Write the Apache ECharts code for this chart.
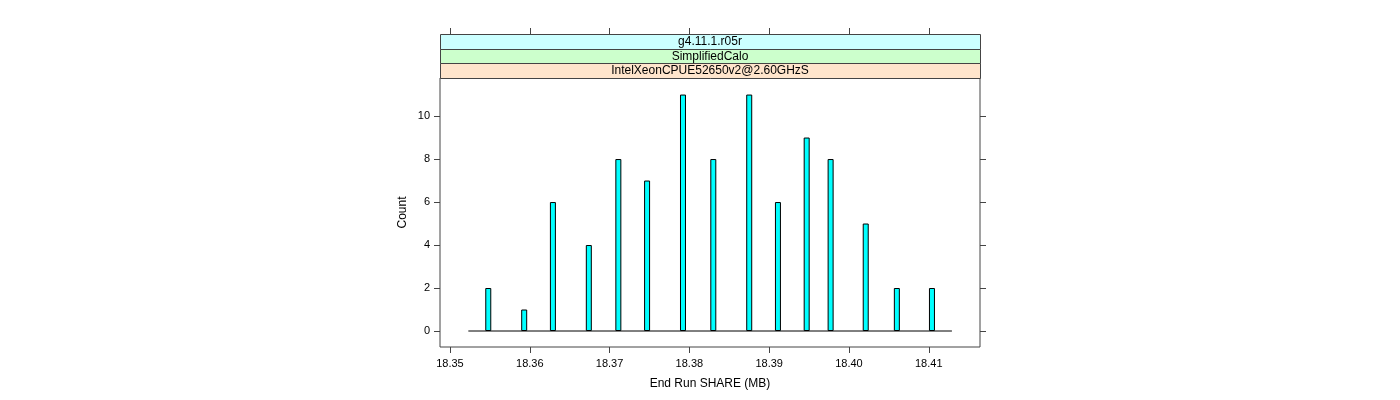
<!DOCTYPE html>
<html>
<head>
<meta charset="utf-8">
<script src="https://cdn.jsdelivr.net/npm/echarts@6/dist/echarts.min.js"></script>
<style>
  html, body { margin: 0; padding: 0; background: #fff; }
  #chart { width: 1400px; height: 400px; }
</style>
</head>
<body>
<div id="chart"></div>
<script>
// bar positions (End Run SHARE, MB) and counts
const shareValues = [18.3548, 18.3593, 18.3629, 18.3674, 18.3711, 18.3747, 18.3792, 18.3830,
                     18.3875, 18.3911, 18.3947, 18.3977, 18.4021, 18.4060, 18.4104];
const counts = [2, 1, 6, 4, 8, 7, 11, 8, 11, 6, 9, 8, 5, 2, 2];

// horizontal reference line at zero across the data range
const zeroLine = [[18.3523, 0], [18.4129, 0]];

const xTicks = [18.35, 18.36, 18.37, 18.38, 18.39, 18.40, 18.41];
const yTicks = [0, 2, 4, 6, 8, 10];

const stripLabels = ['g4.11.1.r05r', 'SimplifiedCalo', 'IntelXeonCPUE52650v2@2.60GHzS'];
const stripColors = ['#CCFFFF', '#CCFFCC', '#FFE5CC'];

const FONT = '"Liberation Sans", Arial, sans-serif';
const AXIS = '#444';

const chart = echarts.init(document.getElementById('chart'));

// strip boxes above the panel
const stripTops = [34, 49, 63];
const stripHeights = [15, 14, 15];
const strips = [];
stripLabels.forEach((label, i) => {
  strips.push({
    type: 'rect',
    left: 440, top: stripTops[i],
    shape: { width: 540, height: stripHeights[i] },
    style: { fill: stripColors[i], stroke: AXIS, lineWidth: 1 },
    z: 10
  });
  strips.push({
    type: 'text',
    x: 710,
    y: stripTops[i] + stripHeights[i] / 2 + 0.5,
    style: {
      text: label, font: '12px ' + FONT, fill: '#000',
      align: 'center', verticalAlign: 'middle'
    },
    z: 11
  });
});

const option = {
  animation: false,
  grid: {
    left: 440, right: 420, top: 78, bottom: 53,
    show: true, borderColor: AXIS, borderWidth: 1
  },
  graphic: strips,
  xAxis: [
    {
      type: 'value',
      position: 'bottom',
      min: 18.34875, max: 18.41642,
      name: 'End Run SHARE (MB)',
      nameLocation: 'middle',
      nameGap: 31,
      nameTextStyle: { fontFamily: FONT, fontSize: 12, color: '#000' },
      splitLine: { show: false },
      axisLine: { show: false, onZero: false },
      axisTick: { show: true, inside: false, length: 6, customValues: xTicks, lineStyle: { color: AXIS } },
      axisLabel: {
        customValues: xTicks, margin: 11,
        fontFamily: FONT, fontSize: 11, color: '#000',
        formatter: v => v.toFixed(2)
      }
    },
    {
      type: 'value',
      position: 'top',
      offset: 44,
      min: 18.34875, max: 18.41642,
      splitLine: { show: false },
      axisLine: { show: false, onZero: false },
      axisTick: { show: true, inside: false, length: 6, customValues: xTicks, lineStyle: { color: AXIS } },
      axisLabel: { show: false }
    }
  ],
  yAxis: [
    {
      type: 'value',
      position: 'left',
      min: -0.744, max: 11.77,
      name: 'Count',
      nameLocation: 'middle',
      nameGap: 31,
      nameRotate: 90,
      nameTextStyle: { fontFamily: FONT, fontSize: 12, color: '#000' },
      splitLine: { show: false },
      axisLine: { show: false, onZero: false },
      axisTick: { show: true, inside: false, length: 6, customValues: yTicks, lineStyle: { color: AXIS } },
      axisLabel: { customValues: yTicks, margin: 10, fontFamily: FONT, fontSize: 11, color: '#000' }
    },
    {
      type: 'value',
      position: 'right',
      min: -0.744, max: 11.77,
      splitLine: { show: false },
      axisLine: { show: false, onZero: false },
      axisTick: { show: true, inside: false, length: 6, customValues: yTicks, lineStyle: { color: AXIS } },
      axisLabel: { show: false }
    }
  ],
  series: [
    {
      type: 'line',
      data: zeroLine,
      showSymbol: false,
      lineStyle: { color: '#000', width: 1 },
      z: 1
    },
    {
      type: 'bar',
      data: shareValues.map((x, i) => [x, counts[i]]),
      barWidth: 6,
      itemStyle: { color: '#00FFFF', borderColor: '#000', borderWidth: 1 },
      z: 2
    }
  ]
};

chart.setOption(option);
</script>
</body>
</html>
